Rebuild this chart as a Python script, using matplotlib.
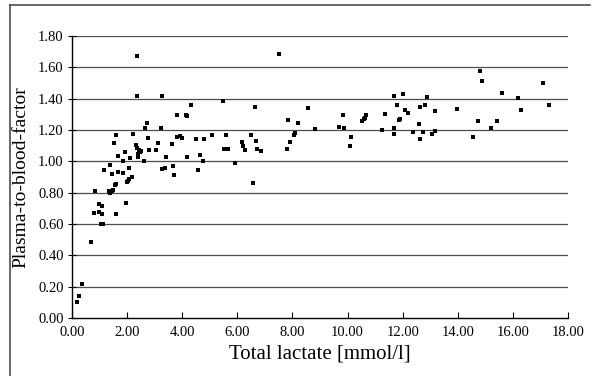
import matplotlib
matplotlib.use("Agg")
import matplotlib.pyplot as plt
from matplotlib.lines import Line2D

# Total lactate [mmol/l] vs plasma-to-blood factor
lactate = [0.19, 0.25, 0.35, 0.69, 1.04, 1.14,
           0.79, 0.99, 1.09, 0.99, 1.09, 1.60, 1.96,
           0.83, 1.33, 1.38, 1.44, 1.50, 1.57, 1.61, 2.00, 6.58,
           1.17, 1.38, 1.44, 1.66, 1.84, 2.17, 2.08, 2.02,
           1.60, 2.20, 2.75, 1.54, 3.11, 2.31,
           2.36, 2.42, 2.46, 2.40, 2.50,
           2.81, 3.05, 1.92, 1.66, 2.10, 2.41, 1.84, 2.62, 2.07,
           2.36, 2.36, 2.71, 2.65,
           3.28, 4.33, 5.48, 6.63, 3.82, 4.12, 4.18,
           3.23, 3.62, 3.82, 3.93, 3.98, 4.49, 4.79, 5.08, 5.58, 6.48, 6.68,
           6.18, 6.22, 6.28, 5.52, 5.67, 6.72, 6.85,
           3.42, 4.18, 4.64, 4.76, 5.91, 3.27, 3.36, 3.68, 4.58, 3.71,
           7.50, 11.70, 12.01, 8.55, 11.79, 12.09, 12.19,
           7.85, 8.19, 9.82, 10.68, 10.64, 10.60, 10.52,
           11.35, 11.85, 11.90, 8.81, 9.68, 9.86, 11.25,
           11.70, 11.70, 8.08, 8.04, 7.90, 7.80, 10.12, 10.08,
           14.82, 14.86, 17.10, 15.60, 12.87, 16.19, 17.31,
           12.82, 12.63, 13.17, 13.98, 16.28, 12.58, 14.73,
           15.41, 15.21, 12.37, 12.72, 13.17, 13.07, 12.64, 14.56]

factor = [0.10, 0.14, 0.22, 0.485, 0.60, 0.60,
          0.67, 0.675, 0.665, 0.73, 0.715, 0.665, 0.735,
          0.81, 0.81, 0.80, 0.81, 0.82, 0.85, 0.855, 0.87, 0.86,
          0.945, 0.98, 0.92, 0.93, 0.927, 0.90, 0.89, 0.875,
          1.17, 1.175, 1.15, 1.115, 1.115, 1.105,
          1.085, 1.07, 1.06, 1.05, 1.065,
          1.07, 1.07, 1.06, 1.035, 1.02, 1.03, 1.00, 1.00, 0.96,
          1.675, 1.42, 1.245, 1.215,
          1.42, 1.357, 1.383, 1.35, 1.294, 1.297, 1.29,
          1.21, 1.11, 1.157, 1.16, 1.147, 1.14, 1.14, 1.166, 1.17, 1.166, 1.13,
          1.125, 1.10, 1.07, 1.08, 1.077, 1.08, 1.066,
          1.03, 1.025, 1.04, 1.00, 0.99, 0.95, 0.955, 0.97, 0.946, 0.91,
          1.683, 1.42, 1.43, 1.342, 1.357, 1.33, 1.31,
          1.266, 1.242, 1.295, 1.297, 1.28, 1.27, 1.257,
          1.303, 1.264, 1.268, 1.204, 1.217, 1.215, 1.20,
          1.215, 1.174, 1.18, 1.168, 1.125, 1.077, 1.157, 1.098,
          1.576, 1.515, 1.50, 1.434, 1.41, 1.406, 1.36,
          1.36, 1.35, 1.32, 1.334, 1.327, 1.24, 1.26,
          1.255, 1.215, 1.187, 1.19, 1.193, 1.176, 1.142, 1.155]

xticks = [0, 2, 4, 6, 8, 10, 12, 14, 16, 18]
yticks = [0.0, 0.2, 0.4, 0.6, 0.8, 1.0, 1.2, 1.4, 1.6, 1.8]

plt.rcParams['font.family'] = ['Liberation Serif', 'DejaVu Serif']

fig = plt.figure(figsize=(5.93, 3.76), dpi=100)
ax = fig.add_axes([0.1214, 0.1543, 0.8366, 0.7497])

# horizontal grid lines
for yv in yticks[1:]:
    ax.axhline(yv, color='0.3', lw=0.9, zorder=1)

ax.scatter(lactate, factor, marker='s', s=12, color='black', linewidths=0, zorder=3)

ax.set_xlim(0, 18)
ax.set_ylim(0, 1.8)
ax.set_xticks(xticks)
ax.set_yticks(yticks)
ax.set_xticklabels(['%.2f' % v for v in xticks], fontsize=10.5)
ax.set_yticklabels(['%.2f' % v for v in yticks], fontsize=10.5)
ax.tick_params(axis='x', direction='in', length=4, width=0.8, pad=6)
ax.tick_params(axis='y', direction='inout', length=6, width=0.8, pad=3)

for side in ['top', 'right']:
    ax.spines[side].set_visible(False)
ax.spines['left'].set_linewidth(1.0)
ax.spines['bottom'].set_linewidth(1.0)

ax.set_xlabel('Total lactate [mmol/l]', fontsize=15, labelpad=4)
ax.set_ylabel('Plasma-to-blood-factor', fontsize=14, labelpad=6)

# outer frame of the scanned figure (top and left edges)
fig.add_artist(Line2D([10/593, 590/593], [1 - 5/376, 1 - 5/376], color='0.3', lw=1.2))
fig.add_artist(Line2D([10/593, 10/593], [0.0, 1 - 5/376], color='0.3', lw=1.2))

fig.savefig('out.png', dpi=100)
